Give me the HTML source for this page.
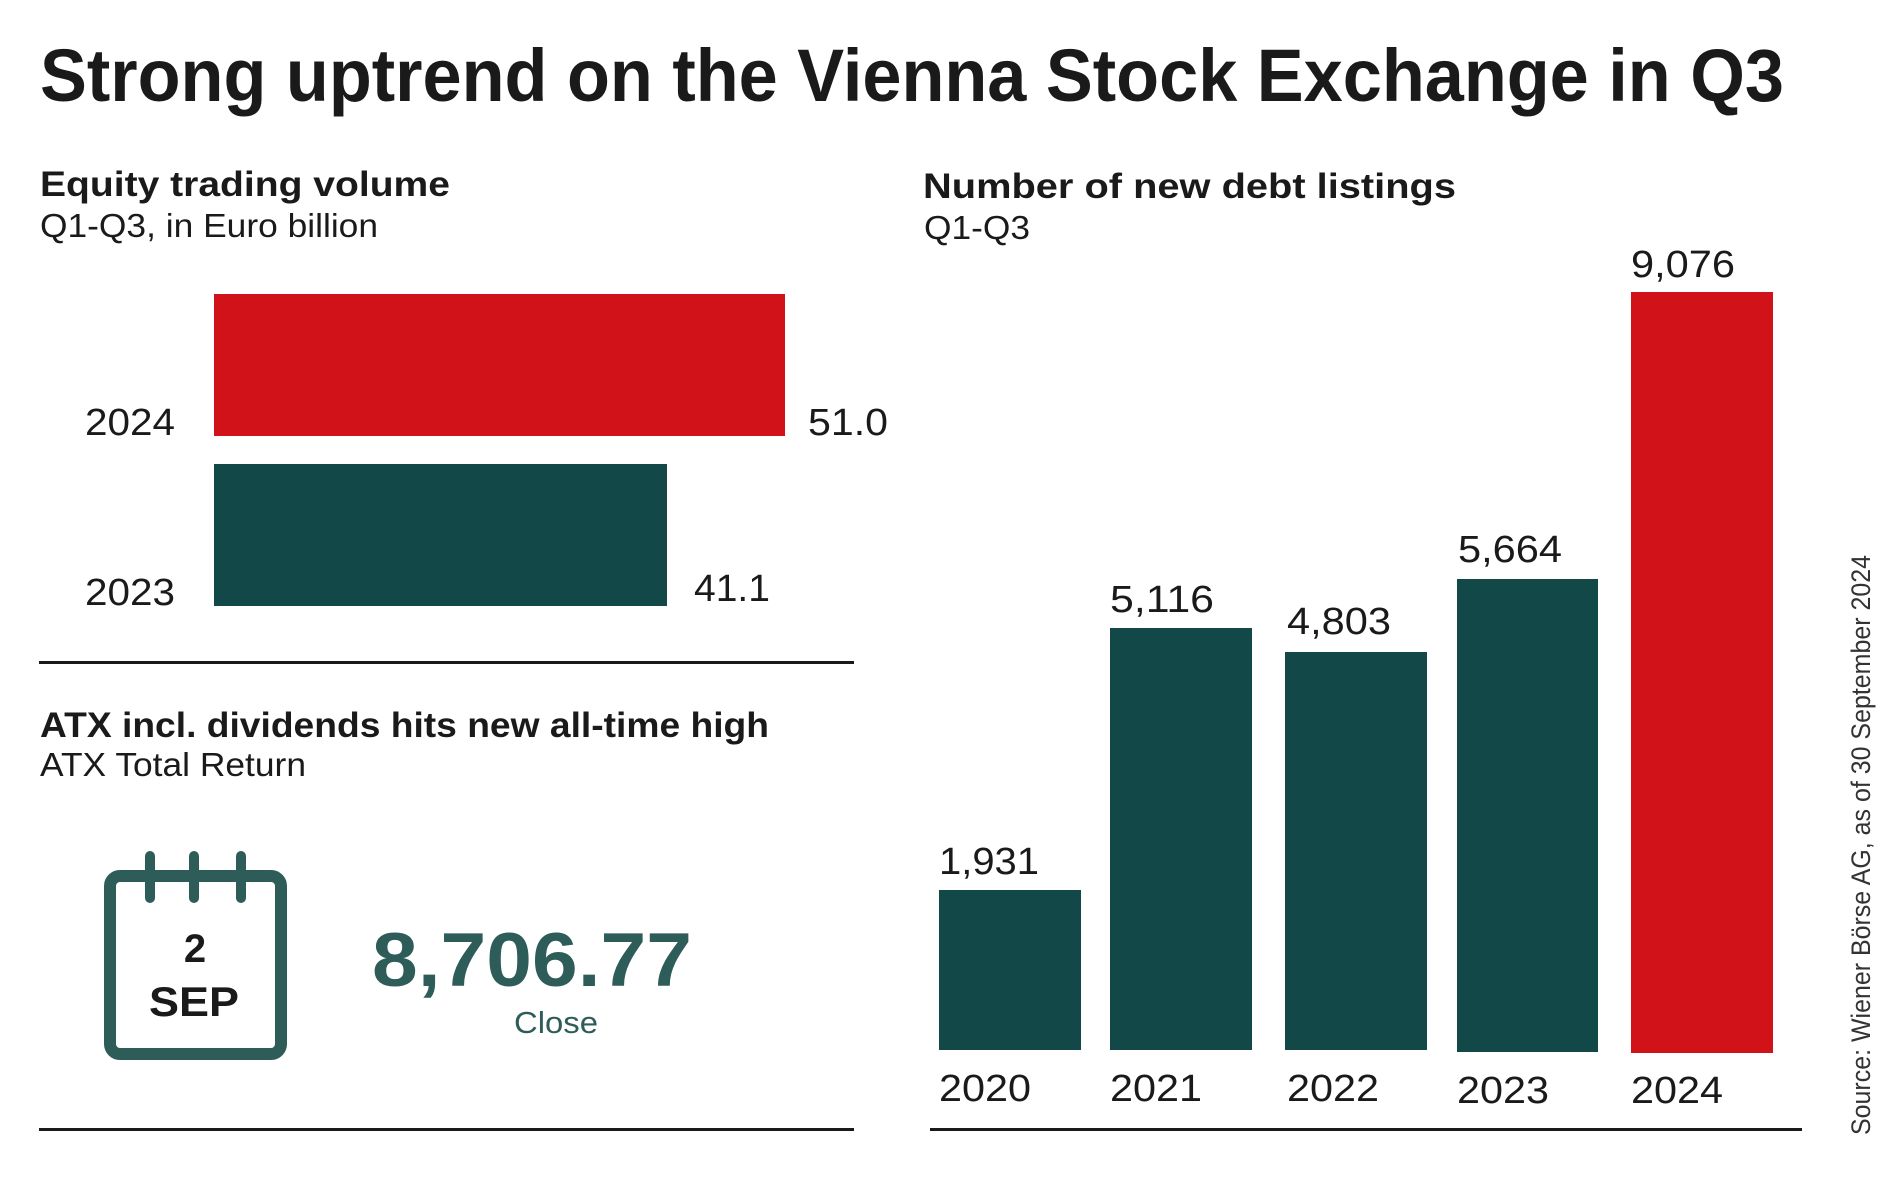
<!DOCTYPE html>
<html><head><meta charset="utf-8"><style>
html,body{margin:0;padding:0;background:#fff;}
svg{display:block;}
text{font-family:"Liberation Sans",Arial,sans-serif;fill:#1a1a1a;}
</style></head><body>
<svg width="1881" height="1178" viewBox="0 0 1881 1178" xmlns="http://www.w3.org/2000/svg">
<rect width="1881" height="1178" fill="#fff"/>
<text x="40" y="101" font-size="74" font-weight="bold" textLength="1744" lengthAdjust="spacingAndGlyphs">Strong uptrend on the Vienna Stock Exchange in Q3</text>

<text x="40" y="196" font-size="35" font-weight="bold" textLength="410" lengthAdjust="spacingAndGlyphs">Equity trading volume</text>
<text x="40" y="237" font-size="33" textLength="338" lengthAdjust="spacingAndGlyphs">Q1-Q3, in Euro billion</text>
<rect x="214" y="294" width="571" height="142" fill="#d11218"/>
<rect x="214" y="464" width="453" height="142" fill="#134848"/>
<text x="85" y="435" font-size="38" textLength="90" lengthAdjust="spacingAndGlyphs">2024</text>
<text x="85" y="605" font-size="38" textLength="90" lengthAdjust="spacingAndGlyphs">2023</text>
<text x="808" y="435" font-size="38" textLength="80" lengthAdjust="spacingAndGlyphs">51.0</text>
<text x="694" y="601" font-size="38" textLength="76" lengthAdjust="spacingAndGlyphs">41.1</text>
<rect x="39" y="661" width="815" height="3" fill="#1a1a1a"/>

<text x="40" y="737" font-size="35" font-weight="bold" textLength="729" lengthAdjust="spacingAndGlyphs">ATX incl. dividends hits new all-time high</text>
<text x="40" y="776" font-size="33" textLength="266" lengthAdjust="spacingAndGlyphs">ATX Total Return</text>
<rect x="110" y="876" width="171" height="178" rx="10" fill="none" stroke="#2e5c58" stroke-width="12"/>
<g stroke="#2e5c58" stroke-width="10" stroke-linecap="round">
<line x1="150" y1="856" x2="150" y2="898"/>
<line x1="194" y1="856" x2="194" y2="898"/>
<line x1="241" y1="856" x2="241" y2="898"/>
</g>
<text x="195" y="962" font-size="40" font-weight="bold" text-anchor="middle">2</text>
<text x="194" y="1016" font-size="42" font-weight="bold" text-anchor="middle" textLength="90" lengthAdjust="spacingAndGlyphs">SEP</text>
<text x="372" y="986" font-size="76" font-weight="bold" style="fill:#2e5c58" textLength="320" lengthAdjust="spacingAndGlyphs">8,706.77</text>
<text x="514" y="1033" font-size="31" style="fill:#2e5c58" textLength="84" lengthAdjust="spacingAndGlyphs">Close</text>
<rect x="39" y="1128" width="815" height="3" fill="#1a1a1a"/>

<text x="923" y="198" font-size="35" font-weight="bold" textLength="533" lengthAdjust="spacingAndGlyphs">Number of new debt listings</text>
<text x="924" y="239" font-size="33" textLength="106" lengthAdjust="spacingAndGlyphs">Q1-Q3</text>
<rect x="939" y="890" width="142" height="160" fill="#134848"/>
<rect x="1110" y="628" width="142" height="422" fill="#134848"/>
<rect x="1285" y="652" width="142" height="398" fill="#134848"/>
<rect x="1457" y="579" width="141" height="473" fill="#134848"/>
<rect x="1631" y="292" width="142" height="761" fill="#d11218"/>
<g font-size="38">
<text x="939" y="874" textLength="100" lengthAdjust="spacingAndGlyphs">1,931</text>
<text x="1110" y="612" textLength="104" lengthAdjust="spacingAndGlyphs">5,116</text>
<text x="1287" y="634" textLength="104" lengthAdjust="spacingAndGlyphs">4,803</text>
<text x="1458" y="562" textLength="104" lengthAdjust="spacingAndGlyphs">5,664</text>
<text x="1631" y="277" textLength="104" lengthAdjust="spacingAndGlyphs">9,076</text>
<text x="939" y="1101" textLength="92" lengthAdjust="spacingAndGlyphs">2020</text>
<text x="1110" y="1101" textLength="92" lengthAdjust="spacingAndGlyphs">2021</text>
<text x="1287" y="1101" textLength="92" lengthAdjust="spacingAndGlyphs">2022</text>
<text x="1457" y="1103" textLength="92" lengthAdjust="spacingAndGlyphs">2023</text>
<text x="1631" y="1103" textLength="92" lengthAdjust="spacingAndGlyphs">2024</text>
</g>
<rect x="930" y="1128" width="872" height="3" fill="#1a1a1a"/>
<text transform="translate(1870,1135) rotate(-90)" x="0" y="0" font-size="27" style="fill:#333" textLength="580" lengthAdjust="spacingAndGlyphs">Source: Wiener Börse AG, as of  30  September 2024</text>
</svg>
</body></html>
